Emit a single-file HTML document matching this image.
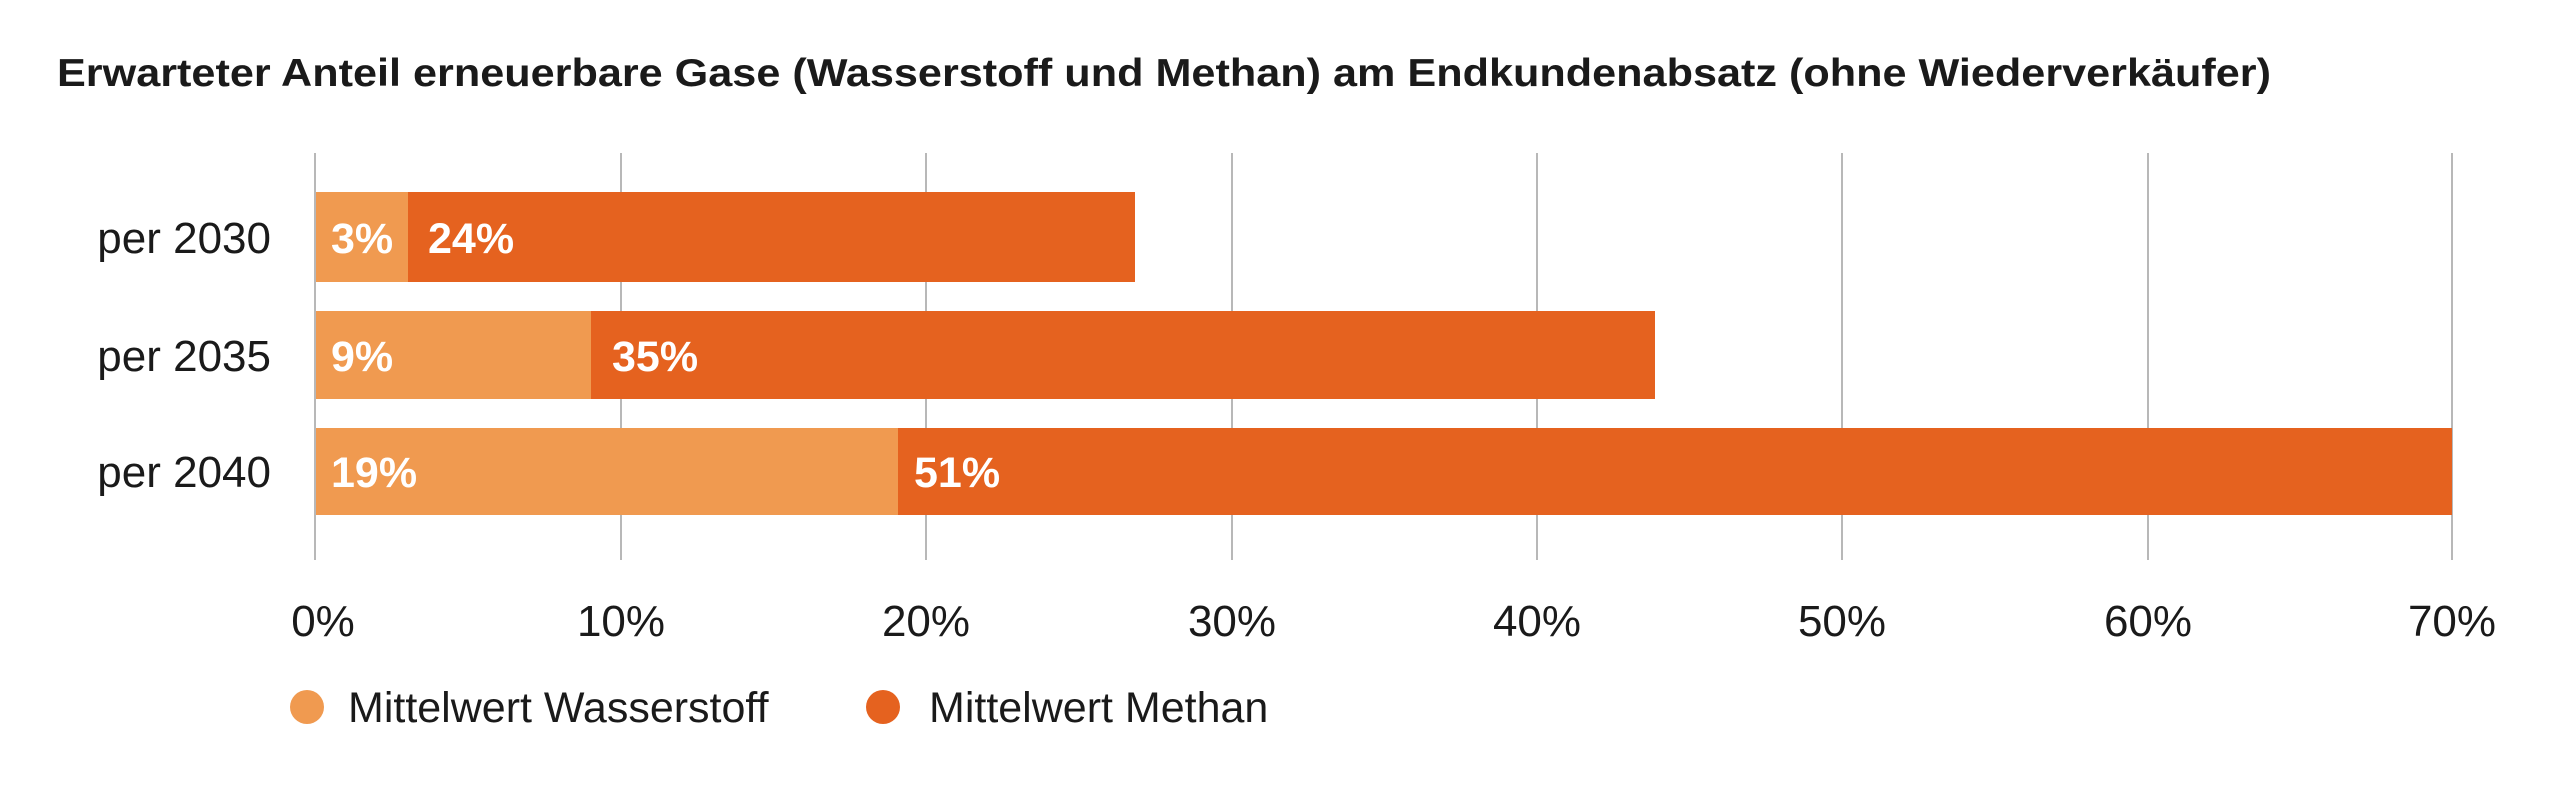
<!DOCTYPE html>
<html><head><meta charset="utf-8"><style>html,body{margin:0;padding:0;background:#fff}svg{display:block}</style></head>
<body>
<svg width="2560" height="798" viewBox="0 0 2560 798" xmlns="http://www.w3.org/2000/svg" font-family="Liberation Sans, sans-serif">
<text x="57" y="86" font-size="39" font-weight="bold" fill="#1a1a1a" textLength="2214" lengthAdjust="spacingAndGlyphs">Erwarteter Anteil erneuerbare Gase (Wasserstoff und Methan) am Endkundenabsatz (ohne Wiederverkäufer)</text>
<g stroke="#b8b8b8" stroke-width="2">
<line x1="315" y1="153" x2="315" y2="560"/><line x1="621" y1="153" x2="621" y2="560"/><line x1="926" y1="153" x2="926" y2="560"/><line x1="1232" y1="153" x2="1232" y2="560"/><line x1="1537" y1="153" x2="1537" y2="560"/><line x1="1842" y1="153" x2="1842" y2="560"/><line x1="2148" y1="153" x2="2148" y2="560"/><line x1="2452" y1="153" x2="2452" y2="560"/>
</g>
<rect x="316" y="192" width="92" height="90" fill="#F09A50"/>
<rect x="408" y="192" width="727" height="90" fill="#E5621F"/>
<rect x="316" y="311" width="275" height="88" fill="#F09A50"/>
<rect x="591" y="311" width="1064" height="88" fill="#E5621F"/>
<rect x="316" y="428" width="582" height="87" fill="#F09A50"/>
<rect x="898" y="428" width="1554" height="87" fill="#E5621F"/>
<g fill="#fff" font-size="43" font-weight="bold">
<text x="331" y="253">3%</text><text x="428" y="253">24%</text>
<text x="331" y="371">9%</text><text x="612" y="371">35%</text>
<text x="331" y="487">19%</text><text x="914" y="487">51%</text>
</g>
<g fill="#1a1a1a" font-size="44" text-anchor="end">
<text x="271" y="253">per 2030</text><text x="271" y="371">per 2035</text><text x="271" y="487">per 2040</text>
</g>
<g fill="#1a1a1a" font-size="44" text-anchor="middle">
<text x="323" y="636">0%</text><text x="621" y="636">10%</text><text x="926" y="636">20%</text><text x="1232" y="636">30%</text><text x="1537" y="636">40%</text><text x="1842" y="636">50%</text><text x="2148" y="636">60%</text><text x="2452" y="636">70%</text>
</g>
<circle cx="307" cy="707" r="17" fill="#F09A50"/>
<circle cx="883" cy="707" r="17" fill="#E5621F"/>
<g fill="#1a1a1a" font-size="43">
<text x="348" y="722">Mittelwert Wasserstoff</text>
<text x="929" y="722">Mittelwert Methan</text>
</g>
</svg>
</body></html>
